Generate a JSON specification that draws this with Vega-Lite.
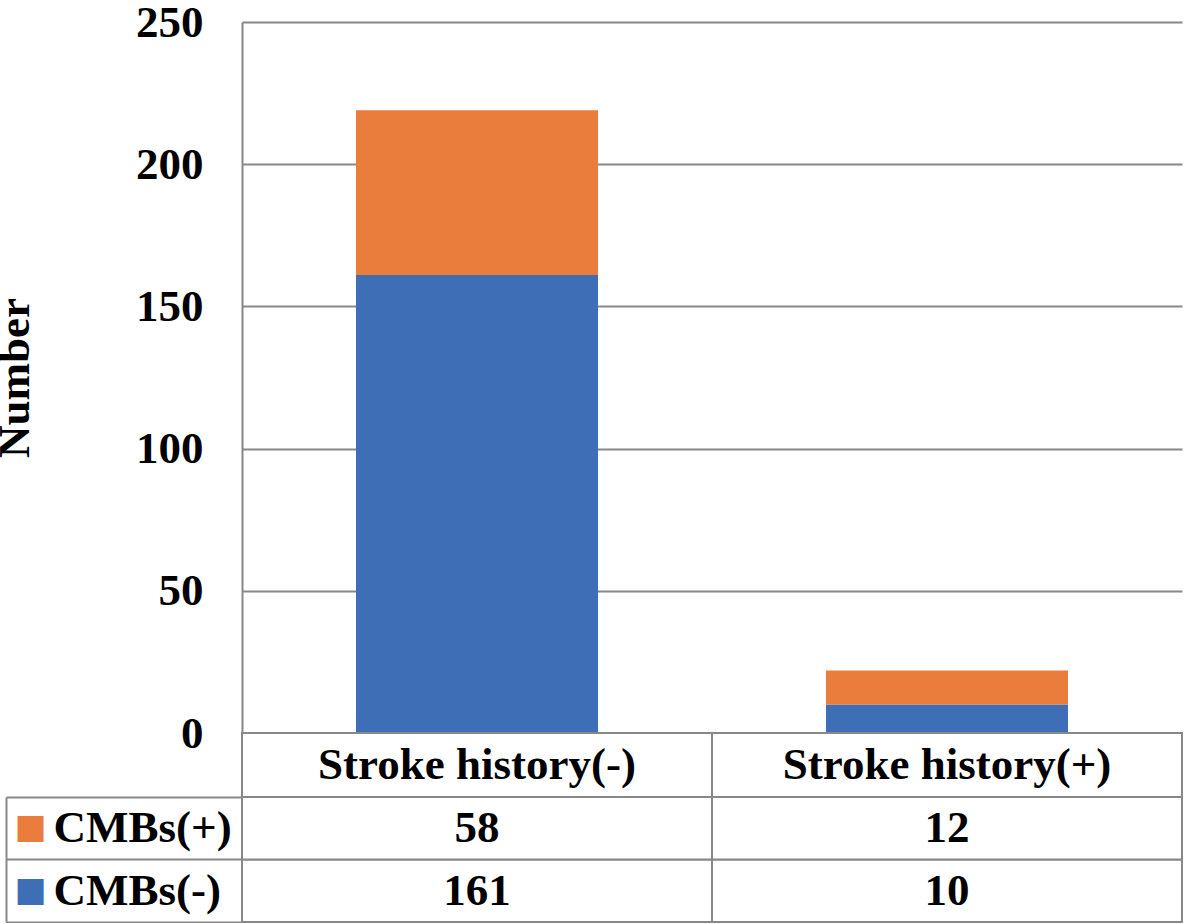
{
  "$schema": "https://vega.github.io/schema/vega-lite/v6.json",
  "padding": {"left": -8, "top": 0, "right": 0, "bottom": 0},
  "datasets": {
    "cmb": [
      {"group": "Stroke history(-)", "status": "CMBs(-)", "count": 161},
      {"group": "Stroke history(-)", "status": "CMBs(+)", "count": 58},
      {"group": "Stroke history(+)", "status": "CMBs(-)", "count": 10},
      {"group": "Stroke history(+)", "status": "CMBs(+)", "count": 12}
    ]
  },
  "spacing": 0,
  "bounds": "flush",
  "vconcat": [
    {
      "width": 940,
      "height": 711,
      "data": {"name": "cmb"},
      "mark": {"type": "bar", "width": {"band": 0.515}},
      "encoding": {
        "x": {"field": "group", "type": "nominal", "sort": null, "scale": {"paddingInner": 0, "paddingOuter": 0}, "axis": null},
        "y": {
          "field": "count", "type": "quantitative", "stack": "zero",
          "scale": {"domain": [0, 250], "nice": false},
          "axis": {
            "title": "Number", "values": [0, 50, 100, 150, 200, 250],
            "grid": true, "gridColor": "#888888", "gridWidth": 2,
            "domain": true, "domainColor": "#888888", "domainWidth": 2,
            "ticks": false, "labelPadding": 39,
            "labelFont": "Liberation Serif", "labelFontSize": 45, "labelFontWeight": "bold", "labelColor": "#000000",
            "titleFont": "Liberation Serif", "titleFontSize": 45, "titleFontWeight": "bold", "titleColor": "#000000",
            "titlePadding": 98
          }
        },
        "color": {"field": "status", "type": "nominal", "scale": {"domain": ["CMBs(+)", "CMBs(-)"], "range": ["#EA7D3B", "#3E6EB5"]}, "legend": null},
        "order": {"field": "status", "sort": "descending"}
      }
    },
    {
      "width": 940,
      "height": 64,
      "data": {"name": "cmb"},
      "transform": [{"aggregate": [], "groupby": ["group"]}],
      "encoding": {
        "x": {"field": "group", "type": "nominal", "sort": null, "scale": {"paddingInner": 0, "paddingOuter": 0}, "axis": null}
      },
      "layer": [
        {"mark": {"type": "rect", "fill": "#ffffff", "stroke": "#888888", "strokeWidth": 2}},
        {"mark": {"type": "text", "font": "Liberation Serif", "fontSize": 45, "fontWeight": "bold", "color": "#000000", "baseline": "middle"},
         "encoding": {"text": {"field": "group"}}}
      ]
    },
    {
      "width": 940,
      "height": 125,
      "data": {"name": "cmb"},
      "encoding": {
        "x": {"field": "group", "type": "nominal", "sort": null, "scale": {"paddingInner": 0, "paddingOuter": 0}, "axis": null}
      },
      "layer": [
        {
          "mark": {"type": "rect", "fill": "#ffffff", "stroke": "#888888", "strokeWidth": 2},
          "encoding": {
            "y": {"field": "status", "type": "nominal", "scale": {"domain": ["CMBs(+)", "CMBs(-)"], "paddingInner": 0, "paddingOuter": 0},
              "axis": {"orient": "left", "title": null, "ticks": false, "domain": false, "labelPadding": 189, "labelAlign": "left",
                "labelFont": "Liberation Serif", "labelFontSize": 45, "labelFontWeight": "bold", "labelColor": "#000000"}}
          }
        },
        {
          "mark": {"type": "text", "font": "Liberation Serif", "fontSize": 45, "fontWeight": "bold", "color": "#000000", "baseline": "middle"},
          "encoding": {
            "text": {"field": "count"},
            "y": {"field": "status", "type": "nominal", "scale": {"domain": ["CMBs(+)", "CMBs(-)"], "paddingInner": 0, "paddingOuter": 0},
              "axis": {"orient": "left", "title": null, "ticks": false, "domain": false, "labelPadding": 196,
                "labelExpr": "'■'", "labelFont": "DejaVu Sans", "labelFontSize": 34,
                "labelColor": {"condition": {"test": "datum.value === 'CMBs(+)'", "value": "#EA7D3B"}, "value": "#3E6EB5"}}}
          }
        },
        {
          "mark": {"type": "rect", "fillOpacity": 0, "strokeOpacity": 0},
          "encoding": {
            "y": {"field": "status", "type": "nominal", "scale": {"domain": ["CMBs(+)", "CMBs(-)"], "paddingInner": 0, "paddingOuter": 0},
              "axis": {"orient": "left", "title": null, "offset": 236, "labels": false,
                "domain": true, "domainColor": "#888888", "domainWidth": 2,
                "ticks": true, "bandPosition": 1, "tickExtra": true, "tickSize": -236, "tickColor": "#888888", "tickWidth": 2}}
          }
        }
      ],
      "resolve": {"axis": {"y": "independent"}}
    }
  ],
  "config": {
    "font": "Liberation Serif",
    "view": {"stroke": null}
  }
}
